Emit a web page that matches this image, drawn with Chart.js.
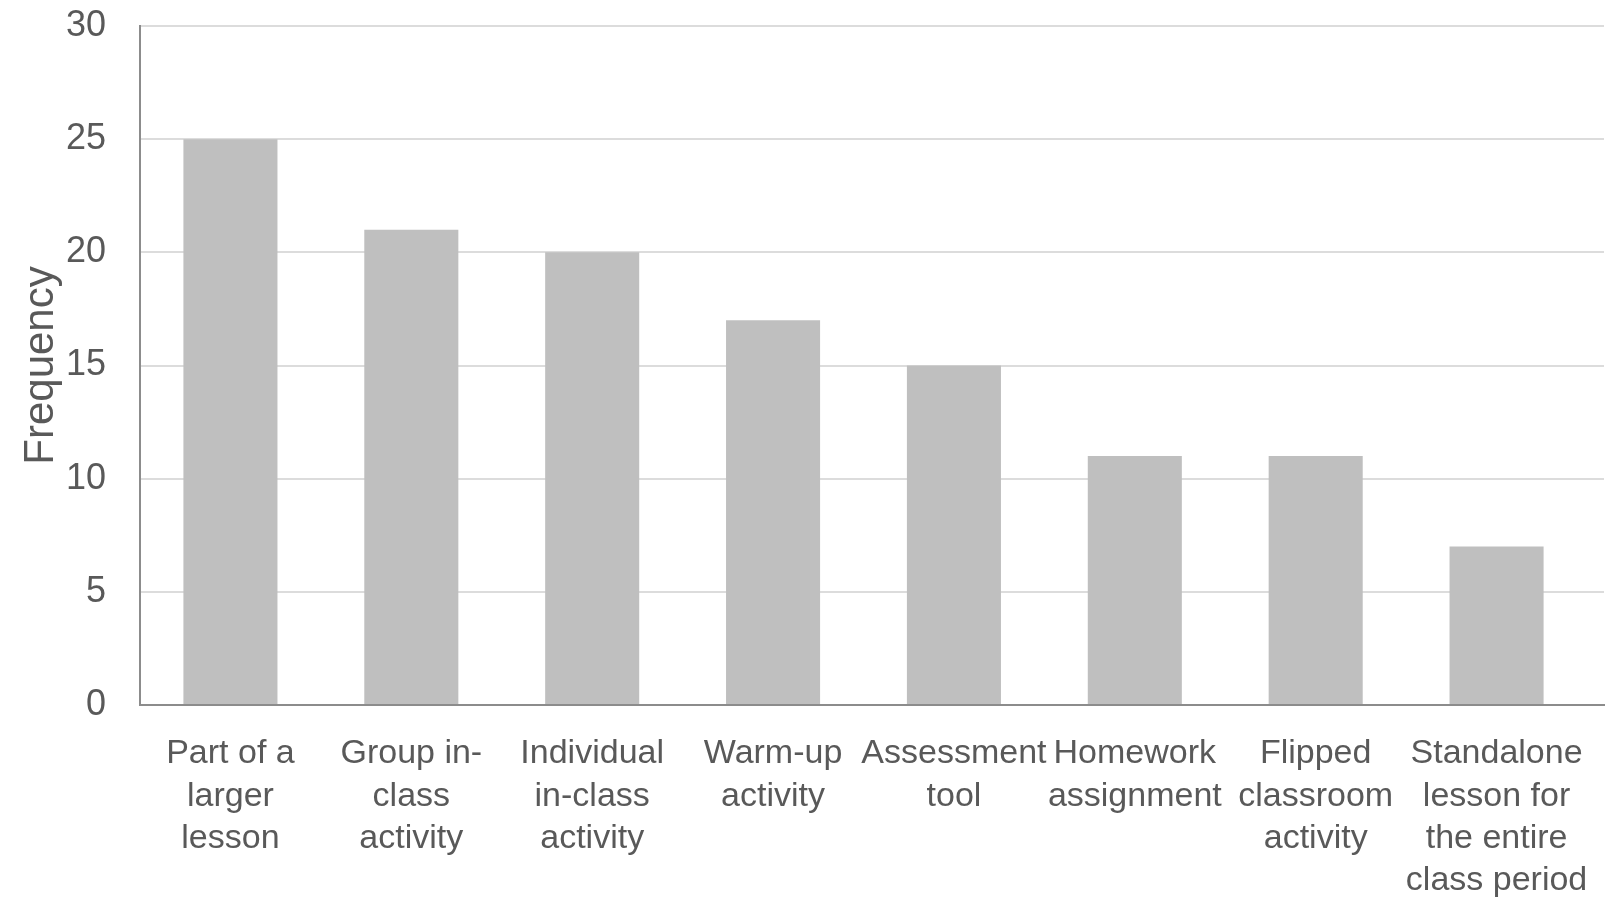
<!DOCTYPE html>
<html>
<head>
<meta charset="utf-8">
<script src="https://cdn.jsdelivr.net/npm/chart.js@4"></script>
<style>
  html, body { margin: 0; padding: 0; background: #fff; }
  #wrap { width: 1612px; height: 898px; position: relative; }
</style>
</head>
<body>
<div id="wrap"><canvas id="myChart"></canvas></div>
<script>
const categories = [
  ['Part of a', 'larger', 'lesson'],
  ['Group in-', 'class', 'activity'],
  ['Individual', 'in-class', 'activity'],
  ['Warm-up', 'activity'],
  ['Assessment', 'tool'],
  ['Homework', 'assignment'],
  ['Flipped', 'classroom', 'activity'],
  ['Standalone', 'lesson for', 'the entire', 'class period']
]
const frequency = [25, 21, 20, 17, 15, 11, 11, 7]
const yTicks = [0, 5, 10, 15, 20, 25, 30]

Chart.defaults.font.family = '"Liberation Sans", Arial, sans-serif';
Chart.defaults.color = '#595959';

const config = {
  type: 'bar',
  data: {
    labels: categories,
    datasets: [{
      data: frequency,
      backgroundColor: '#bfbfbf',
      barPercentage: 0.52,
      categoryPercentage: 1
    }]
  },
  options: {
    responsive: true,
    maintainAspectRatio: false,
    animation: false,
    layout: { padding: { top: 26, right: 8, left: 0, bottom: 0 } },
    scales: {
      x: {
        grid: { display: false, drawTicks: false },
        border: { color: '#8c8c8c', width: 2 },
        ticks: {
          autoSkip: false,
          maxRotation: 0,
          minRotation: 0,
          padding: 28,
          font: { size: 34, lineHeight: 1.24 }
        },
        // leave a bit of empty space after the last category
        afterBuildTicks: s => { s._valueRange = categories.length + 0.094 },
        afterFit: s => {
          s.height = 193
          s.paddingLeft = 0
          s.paddingRight = 0
        }
      },
      y: {
        min: 0,
        max: 30,
        afterBuildTicks: s => { s.ticks = yTicks.map(v => ({ value: v })) },
        grid: { color: '#dcdcdc', lineWidth: 2, drawTicks: false },
        border: { color: '#8c8c8c', width: 2 },
        ticks: {
          padding: 34,
          font: { size: 36 }
        },
        title: {
          display: true,
          text: 'Frequency',
          padding: { top: 16, bottom: 0 },
          font: { size: 42 }
        },
        afterFit: s => {
          s.width = 140
          s.paddingTop = 0
          s.paddingBottom = 0
        }
      }
    },
    plugins: {
      legend: { display: false },
      tooltip: { enabled: false }
    }
  }
};

const myChart = new Chart(document.getElementById('myChart'), config);
</script>
</body>
</html>
